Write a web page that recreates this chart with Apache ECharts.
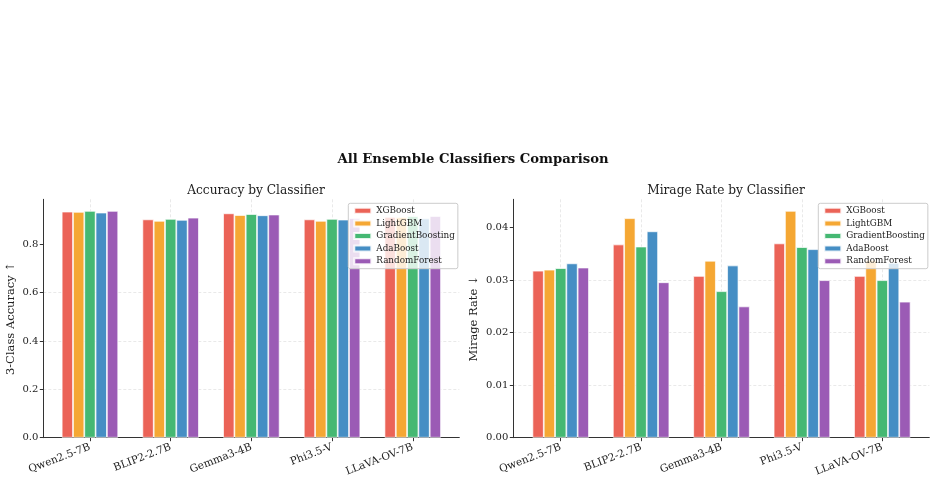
<!DOCTYPE html>
<html>
<head>
<meta charset="utf-8">
<script src="https://cdn.jsdelivr.net/npm/echarts@6/dist/echarts.min.js"></script>
<style>
  html, body { margin: 0; padding: 0; background: #fff; }
  #main { width: 936px; height: 480px; }
</style>
</head>
<body>
<div id="main"></div>
<script>
// models on the x axis
var categories = ['Qwen2.5-7B', 'BLIP2-2.7B', 'Gemma3-4B', 'Phi3.5-V', 'LLaVA-OV-7B'];
var classifiers = ['XGBoost', 'LightGBM', 'GradientBoosting', 'AdaBoost', 'RandomForest'];
var colors = ['#eb6357', '#f5a733', '#45b873', '#458ec4', '#9b5bb5'];

// 3-class accuracy per classifier
var accXGBoost = [0.935, 0.903, 0.928, 0.903, 0.913];
var accLightGBM = [0.934, 0.897, 0.921, 0.897, 0.912];
var accGradientBoosting = [0.938, 0.905, 0.925, 0.905, 0.916];
var accAdaBoost = [0.931, 0.901, 0.920, 0.902, 0.907];
var accRandomForest = [0.938, 0.910, 0.923, 0.908, 0.917];

// mirage rate per classifier
var mirXGBoost = [0.0318, 0.0368, 0.0308, 0.0370, 0.0308];
var mirLightGBM = [0.0320, 0.0418, 0.0337, 0.0432, 0.0338];
var mirGradientBoosting = [0.0323, 0.0364, 0.0279, 0.0363, 0.0300];
var mirAdaBoost = [0.0332, 0.0393, 0.0328, 0.0359, 0.0333];
var mirRandomForest = [0.0324, 0.0296, 0.0250, 0.0300, 0.0259];

// tick labels
var accTicks = [0, 0.2, 0.4, 0.6, 0.8];
var mirTicks = [0, 0.01, 0.02, 0.03, 0.04];

var accData = [accXGBoost, accLightGBM, accGradientBoosting, accAdaBoost, accRandomForest];
var mirData = [mirXGBoost, mirLightGBM, mirGradientBoosting, mirAdaBoost, mirRandomForest];

var FONT = 'DejaVu Serif';
var accMax = 0.986;
var mirMax = 0.0454;

var chart = echarts.init(document.getElementById('main'), null, { renderer: 'canvas' });

// grid 0/2: frame + y labels, grid 1/3: bars on category axis
var grids = [
  { left: 43.3, right: 476.7, top: 199.3, bottom: 42.3 },
  { left: 49.6, width: 403.5, top: 199.3, bottom: 42.3 },
  { left: 513.3, right: 6.7, top: 199.3, bottom: 42.3 },
  { left: 520.5, width: 402, top: 199.3, bottom: 42.3 }
];

function frameX(gi) {
  return {
    type: 'value', gridIndex: gi, min: 0, max: 1,
    axisLine: { show: true, lineStyle: { color: '#333', width: 1 } },
    axisTick: { show: false }, axisLabel: { show: false }, splitLine: { show: false }
  };
}

function catX(gi) {
  return {
    type: 'category', gridIndex: gi, data: categories,
    axisLine: { show: false },
    axisTick: { show: true, alignWithLabel: true, length: 3.5, lineStyle: { color: '#333' } },
    axisLabel: { rotate: 21, fontFamily: FONT, fontSize: 10.5, color: '#222', margin: 9 },
    splitLine: { show: true, alignWithLabel: true, lineStyle: { color: '#e3e3e3', type: [3, 2], width: 0.8 } }
  };
}

function frameY(gi, max, ticks, digits, name, gap) {
  return {
    type: 'value', gridIndex: gi, min: 0, max: max, interval: ticks[1],
    name: name, nameLocation: 'middle', nameGap: gap,
    nameTextStyle: { fontFamily: FONT, fontSize: 11.5, color: '#222' },
    axisLine: { show: true, lineStyle: { color: '#333', width: 1 } },
    axisTick: { show: true, length: 3.5, customValues: ticks, lineStyle: { color: '#333' } },
    axisLabel: {
      customValues: ticks, fontFamily: FONT, fontSize: 10, color: '#222', margin: 5,
      formatter: function (v) { return v.toFixed(digits); }
    },
    splitLine: { show: true, showMaxLine: false, lineStyle: { color: '#e3e3e3', type: [3, 2], width: 0.8 } }
  };
}

function hiddenY(gi, max) {
  return { type: 'value', gridIndex: gi, min: 0, max: max, show: false, splitLine: { show: false } };
}

var series = [];
classifiers.forEach(function (name, i) {
  series.push({
    name: name, type: 'bar', xAxisIndex: 1, yAxisIndex: 1,
    data: accData[i], barWidth: 11.3, barGap: '0%',
    itemStyle: { color: colors[i], borderColor: 'rgba(255,255,255,0.85)', borderWidth: 0.8 }
  });
  series.push({
    name: name, type: 'bar', xAxisIndex: 3, yAxisIndex: 3,
    data: mirData[i], barWidth: 11.3, barGap: '0%',
    itemStyle: { color: colors[i], borderColor: 'rgba(255,255,255,0.85)', borderWidth: 0.8 }
  });
});

function legendAt(left) {
  return {
    orient: 'vertical', left: left, top: 203.3,
    data: classifiers, icon: 'rect', itemWidth: 17, itemHeight: 6, itemGap: 3.6,
    padding: [3, 3, 3, 5],
    backgroundColor: 'rgba(255,255,255,0.8)', borderColor: '#cccccc', borderWidth: 1, borderRadius: 2,
    textStyle: { fontFamily: FONT, fontSize: 8.8, color: '#222', lineHeight: 9, padding: [0, 0, 0, 0] },
    selectedMode: false
  };
}

var option = {
  animation: false,
  backgroundColor: '#ffffff',
  color: colors,
  title: [
    { text: 'All Ensemble Classifiers Comparison', left: 468, top: 148, textAlign: 'center',
      textStyle: { fontFamily: FONT, fontWeight: 'bold', fontSize: 13.2, color: '#111' } },
    { text: 'Accuracy by Classifier', left: 251, top: 180, textAlign: 'center',
      textStyle: { fontFamily: FONT, fontWeight: 'normal', fontSize: 12.2, color: '#222' } },
    { text: 'Mirage Rate by Classifier', left: 721, top: 180, textAlign: 'center',
      textStyle: { fontFamily: FONT, fontWeight: 'normal', fontSize: 12.2, color: '#222' } }
  ],
  legend: [legendAt(348.3), legendAt(818.3)],
  grid: grids,
  xAxis: [frameX(0), catX(1), frameX(2), catX(3)],
  yAxis: [
    frameY(0, accMax, accTicks, 1, '3-Class Accuracy \u2191', 26),
    hiddenY(1, accMax),
    frameY(2, mirMax, mirTicks, 2, 'Mirage Rate \u2193', 33),
    hiddenY(3, mirMax)
  ],
  series: series
};

chart.setOption(option);
</script>
</body>
</html>
